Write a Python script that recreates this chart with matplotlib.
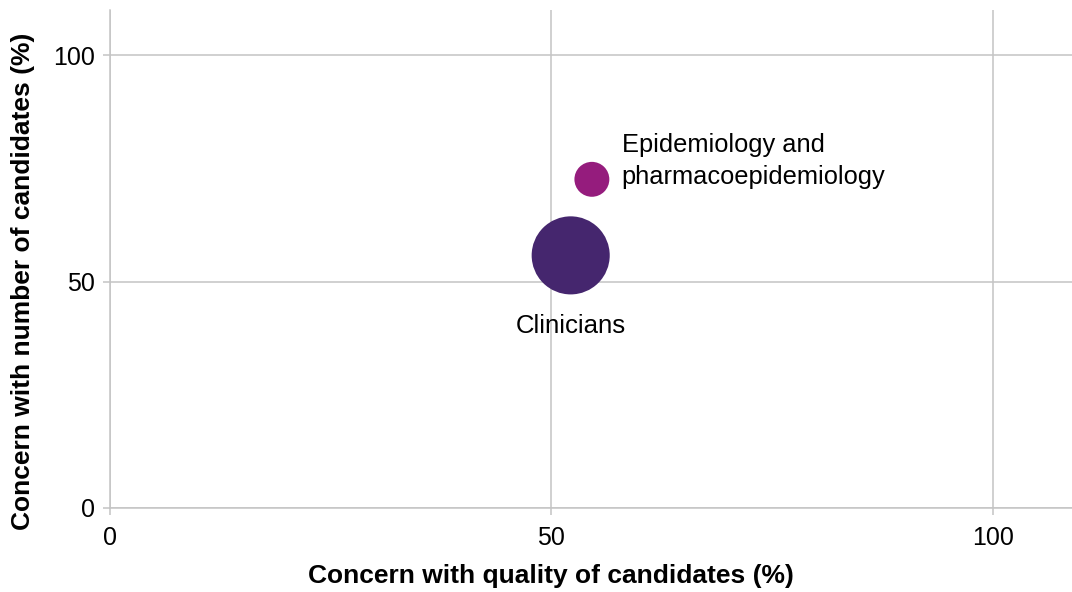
import matplotlib.pyplot as plt

plt.rcParams["font.family"] = ["Liberation Sans", "DejaVu Sans"]

groups = ["Clinicians", "Epidemiology and\npharmacoepidemiology"]
quality = [52.2, 54.6]
number = [55.8, 72.6]
respondents = [50, 10]
colors = ["#45266e", "#951c7d"]

x_ticks = [0, 50, 100]
y_ticks = [0, 50, 100]

fig = plt.figure(figsize=(10.72, 5.92), dpi=100)
ax = fig.add_axes([0.1026, 0.1419, 0.8974, 0.8412])

# bubble area proportional to respondents
sizes = [r * 63.2 for r in respondents]
ax.scatter(quality, number, s=sizes, c=colors, linewidths=0, zorder=3)

ax.annotate(groups[0], (quality[0], number[0]), xytext=(0, -51),
            textcoords="offset points", ha="center", va="center", fontsize=18.5)
ax.annotate(groups[1], (quality[1], number[1]), xytext=(21.5, 13),
            textcoords="offset points", ha="left", va="center", fontsize=18.3,
            linespacing=1.42)

ax.set_xlim(0, 109)
ax.set_ylim(0, 110)
ax.set_xticks(x_ticks)
ax.set_yticks(y_ticks)
ax.grid(True, color="#c4c4c4", linewidth=1.1, zorder=0)
ax.set_axisbelow(True)
for sp in ["top", "right"]:
    ax.spines[sp].set_visible(False)
for sp in ["left", "bottom"]:
    ax.spines[sp].set_color("#c4c4c4")
    ax.spines[sp].set_linewidth(1.1)
ax.tick_params(length=5, width=1.1, color="#c4c4c4", labelsize=18)
ax.tick_params(axis="y", pad=6)
ax.tick_params(axis="x", pad=8)

ax.set_xlabel("Concern with quality of candidates (%)", fontsize=19, fontweight="bold")
ax.set_ylabel("Concern with number of candidates (%)", fontsize=19, fontweight="bold")
ax.xaxis.set_label_coords(50 / 109, -0.113)
ax.yaxis.set_label_coords(-0.078, 50 / 110)

fig.savefig("out.png", dpi=100)
